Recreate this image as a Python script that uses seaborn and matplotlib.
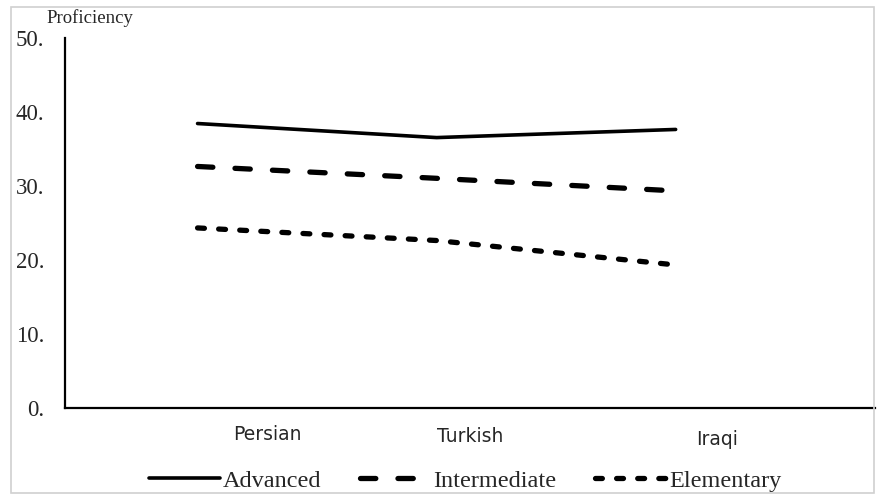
import matplotlib
matplotlib.use("Agg")
import matplotlib.pyplot as plt
import matplotlib.transforms as mtransforms
import seaborn as sns
import pandas as pd

# data
languages = ["Persian", "Turkish", "Iraqi"]
advanced = [38.4, 36.5, 37.6]
intermediate = [32.6, 31.0, 29.3]
elementary = [24.3, 22.6, 19.3]
y_ticks = [0, 10, 20, 30, 40, 50]

sns.set_theme(style="white")
plt.rcParams["font.family"] = ["Liberation Serif", "DejaVu Serif"]

fig = plt.figure(figsize=(8.77, 4.95), dpi=100)
ax = fig.add_axes([0.074, 0.176, 0.924, 0.748])

series = [
    ("Advanced", advanced, dict(lw=2.6)),
    ("Intermediate", intermediate, dict(lw=3.8, dashes=(2.9, 4.2), dash_capstyle="round")),
    ("Elementary", elementary, dict(lw=3.8, dashes=(1.3, 2.7), dash_capstyle="round")),
]

for name, vals, kw in series:
    df = pd.DataFrame({"lang": languages, "score": vals})
    sns.lineplot(data=df, x="lang", y="score", ax=ax, color="black",
                 label=name, sort=False, legend=False, **kw)

ax.set_xlim(-0.555, 2.835)
ax.set_ylim(0, 50)
ax.set_yticks(y_ticks)
ax.set_yticklabels([f"{t}." for t in y_ticks], fontsize=16.5)
ax.tick_params(axis="y", length=0, pad=15)
ax.tick_params(axis="x", length=0, pad=12)
ax.set_xlabel("")
ax.set_ylabel("")

# x labels sit to the right of the data points in the original
ax.set_xticks(range(len(languages)))
ax.set_xticklabels(languages, family="DejaVu Sans", fontsize=13.5)
offsets = [(50, 0), (24, -2), (30, -4)]
for lab, (dx, dy) in zip(ax.get_xticklabels(), offsets):
    lab.set_transform(lab.get_transform() +
                      mtransforms.ScaledTranslation(dx / 72, dy / 72, fig.dpi_scale_trans))

for side in ["top", "right"]:
    ax.spines[side].set_visible(False)
for side in ["left", "bottom"]:
    ax.spines[side].set_color("black")
    ax.spines[side].set_linewidth(1.6)

fig.text(0.053, 0.963, "Proficiency", fontsize=13.5, va="center")

lines = ax.get_lines()[:3]
ax.legend(lines, [s[0] for s in series], loc="center", bbox_to_anchor=(0.494, -0.197),
          ncol=3, frameon=False, fontsize=17.5, handlelength=2.9, handletextpad=0.12,
          columnspacing=1.6)

# faint border around the whole picture
fig.patches.append(plt.Rectangle((0.012, 0.005), 0.985, 0.98, transform=fig.transFigure,
                                 fill=False, edgecolor="#d0d0d0", lw=1.2))

fig.savefig("out.png", dpi=100)
